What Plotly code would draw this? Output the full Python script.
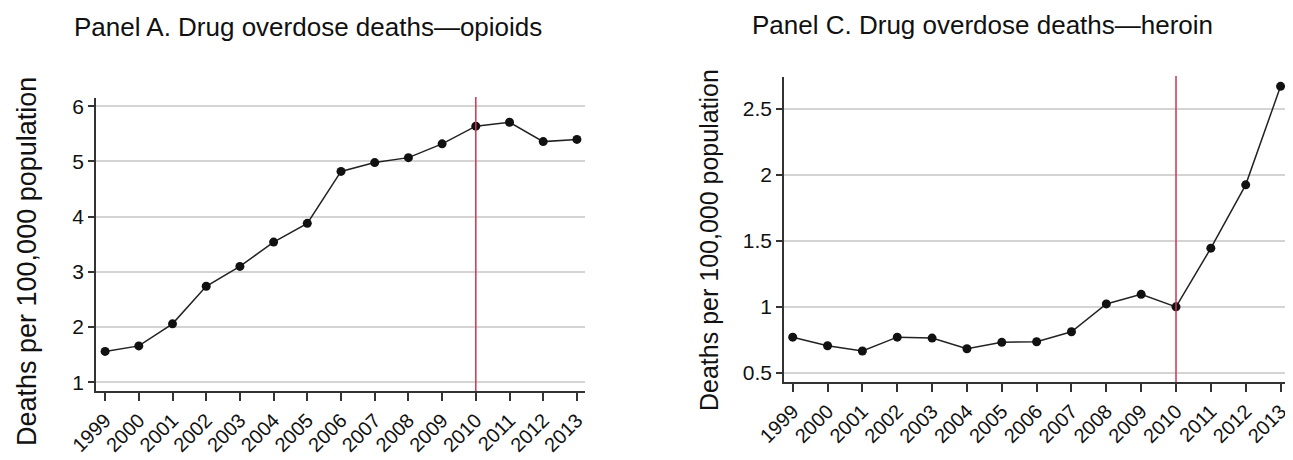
import plotly.graph_objects as go

years = list(range(1999, 2014))
year_labels = [str(y) for y in years]
opioids = [1.56, 1.66, 2.06, 2.74, 3.10, 3.54, 3.88, 4.82, 4.98, 5.07, 5.32, 5.64, 5.71, 5.36, 5.40]
heroin = [0.77, 0.705, 0.665, 0.77, 0.763, 0.682, 0.731, 0.735, 0.811, 1.022, 1.095, 1.0, 1.445, 1.925, 2.672]
opioid_ticks = [1, 2, 3, 4, 5, 6]
heroin_ticks = [0.5, 1, 1.5, 2, 2.5]
heroin_tick_text = ["0.5", "1", "1.5", "2", "2.5"]
policy_year = 2010

title_a = "Panel A. Drug overdose deaths\u2014opioids"
title_c = "Panel C. Drug overdose deaths\u2014heroin"
ytitle = "Deaths per 100,000 population"

FONT = "Liberation Sans, Arial, Helvetica, sans-serif"
OFF = 8  # default page body margin
W, H = 1293 - OFF, 460 - OFF


def px(x):
    return (x - OFF) / W


def py(y):
    return (H - (y - OFF)) / H


fig = go.Figure()
line_style = dict(color="#222222", width=1.5)
marker_style = dict(color="#111111", size=9)

fig.add_trace(go.Scatter(x=years, y=opioids, mode="lines+markers", line=line_style,
                         marker=marker_style, xaxis="x", yaxis="y", showlegend=False))
fig.add_trace(go.Scatter(x=years, y=heroin, mode="lines+markers", line=line_style,
                         marker=marker_style, xaxis="x2", yaxis="y2", showlegend=False,
                         cliponaxis=False))


def xaxis(domain, rng, anchor):
    return dict(domain=domain, range=rng, anchor=anchor, tickmode="array",
                tickvals=years, ticktext=year_labels, tickangle=-45, automargin=False,
                ticks="outside", ticklen=8, tickwidth=1.5, tickcolor="#333333",
                showline=True, linecolor="#333333", linewidth=1.5, showgrid=False,
                zeroline=False, tickfont=dict(family=FONT, size=20, color="#111111"))


def yaxis(domain, rng, anchor, tv, tt):
    return dict(domain=domain, range=rng, anchor=anchor, tickmode="array", automargin=False,
                tickvals=tv, ticktext=tt, ticks="outside", ticklen=6, tickwidth=1.5,
                tickcolor="#333333", showline=True, linecolor="#333333", linewidth=1.5,
                showgrid=True, gridcolor="#d4d4d4", gridwidth=2, zeroline=False,
                tickfont=dict(family=FONT, size=21, color="#111111"))


xa_dom = [px(96), px(585)]
ya_dom = [py(391), py(98)]
xc_dom = [px(784), px(1291)]
yc_dom = [py(382), py(77)]

fig.update_layout(
    width=W, height=H,
    margin=dict(l=0, r=0, t=0, b=0, autoexpand=False),
    paper_bgcolor="white", plot_bgcolor="white",
    xaxis=xaxis(xa_dom, [1998.73, 2013.24], "y"),
    yaxis=yaxis(ya_dom, [0.843, 6.15], "x", opioid_ticks, [str(t) for t in opioid_ticks]),
    xaxis2=xaxis(xc_dom, [1998.75, 2013.3], "y2"),
    yaxis2=yaxis(yc_dom, [0.43, 2.743], "x2", heroin_ticks, heroin_tick_text),
    font=dict(family=FONT, color="#111111"),
)

for xr, yr in (("x", "y"), ("x2", "y2")):
    fig.add_shape(type="line", xref=xr, yref=yr + " domain", x0=policy_year, x1=policy_year,
                  y0=0, y1=1.003, line=dict(color="#cc3355", width=1.5), layer="above")

fig.add_annotation(text=title_a, xref="paper", yref="paper", x=px(72), y=py(27),
                   xanchor="left", yanchor="middle", showarrow=False,
                   font=dict(family=FONT, size=26, color="#111111"))
fig.add_annotation(text=title_c, xref="paper", yref="paper", x=px(751), y=py(9),
                   xanchor="left", yanchor="top", showarrow=False, borderpad=0,
                   font=dict(family=FONT, size=26, color="#111111"))
fig.add_annotation(text=ytitle, xref="paper", yref="paper", x=px(27), y=py(262),
                   xanchor="center", yanchor="middle", showarrow=False, textangle=-90,
                   font=dict(family=FONT, size=27, color="#111111"))
fig.add_annotation(text=ytitle, xref="paper", yref="paper", x=px(709), y=py(240),
                   xanchor="center", yanchor="middle", showarrow=False, textangle=-90,
                   font=dict(family=FONT, size=25, color="#111111"))

fig.write_html("out.html")
